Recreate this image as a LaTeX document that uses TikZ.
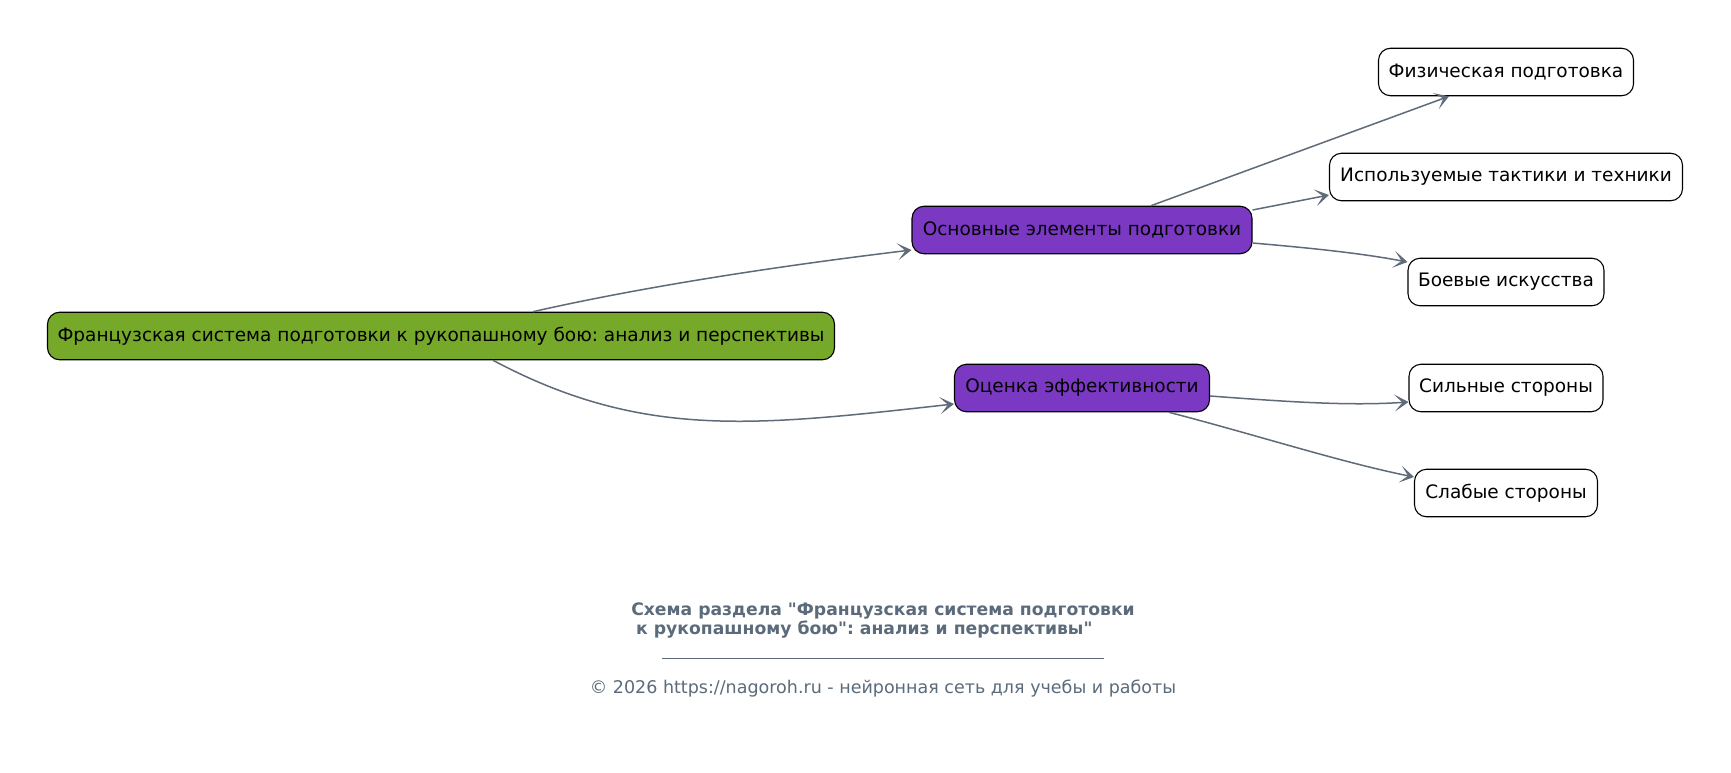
\documentclass[tikz,border=0pt]{standalone}
\usepackage{fontspec}
\setmainfont{DejaVu Sans}
\usetikzlibrary{arrows.meta}
\definecolor{rootgreen}{HTML}{76A82A}
\definecolor{midpurple}{HTML}{7B38C3}
\definecolor{edgegray}{HTML}{5F6B78}
\definecolor{capgray}{HTML}{5B6B7B}
\frenchspacing
\tikzset{
  box/.style={draw=black, line width=1.1pt, rounded corners=12pt, minimum height=47.5pt, inner sep=0pt, font=\fontsize{18.5}{22}\selectfont, text=black},
  rootbox/.style={box, fill=rootgreen},
  midbox/.style={box, fill=midpurple},
  leafbox/.style={box, fill=white},
  link/.style={draw=edgegray, line width=1.5pt, -{Stealth[length=14pt,width=17pt,inset=8pt,line width=1pt]}},
  captitle/.style={font=\bfseries\fontsize{17.2}{20}\selectfont, text=capgray, inner sep=0pt},
  capnote/.style={font=\fontsize{17.5}{20}\selectfont, text=capgray, inner sep=0pt}
}
\begin{document}
\begin{tikzpicture}[x=1pt,y=-1pt]
\useasboundingbox[fill=white] (0,0) rectangle (1731,773);
\node[rootbox, minimum width=787pt] (root) at (441,336) {Французская система подготовки к рукопашному бою: анализ и перспективы};
\node[midbox, minimum width=340pt] (osn) at (1082,230) {Основные элементы подготовки};
\node[midbox, minimum width=255pt] (ots) at (1082,388) {Оценка эффективности};
\node[leafbox, minimum width=255pt] (fiz) at (1506,72) {Физическая подготовка};
\node[leafbox, minimum width=353pt] (isp) at (1506,177) {Используемые тактики и техники};
\node[leafbox, minimum width=196pt] (boev) at (1506,282) {Боевые искусства};
\node[leafbox, minimum width=194pt] (sil) at (1506,388) {Сильные стороны};
\node[leafbox, minimum width=183pt] (slab) at (1506,493) {Слабые стороны};

\draw[link] ([xshift=92pt]root.north) .. controls (633,289) and (762,268) .. ([yshift=-20pt]osn.west);
\draw[link] ([xshift=52pt]root.south) .. controls (643,440) and (755,426) .. ([yshift=-16pt]ots.west);
\draw[link] ([xshift=69pt]osn.north) -- ([xshift=-57pt]fiz.south);
\draw[link] ([yshift=20pt]osn.east) -- ([yshift=-18pt]isp.west);
\draw[link] ([yshift=-13pt]osn.east) .. controls (1310,248) and (1360,253) .. ([yshift=20pt]boev.west);
\draw[link] ([yshift=-8pt]ots.east) .. controls (1290,402) and (1350,406) .. ([yshift=-14pt]sil.west);
\draw[link] ([xshift=87pt]ots.south) .. controls (1260,436) and (1340,462) .. ([yshift=16pt]slab.west);

\node[captitle] (t1) at (883,611) {Схема раздела \textquotedbl Французская система подготовки};
\node[captitle, anchor=west] (t2) at (636,629.5) {к рукопашному бою\textquotedbl: анализ и перспективы\textquotedbl};
\coordinate (r1) at (662,658);
\coordinate (r2) at (1104,658);
\draw[capgray, line width=0.9pt] (r1) -- (r2);
\node[capnote] (note) at (883,689) {© 2026 https://nagoroh.ru - нейронная сеть для учебы и работы};
\end{tikzpicture}
\end{document}
